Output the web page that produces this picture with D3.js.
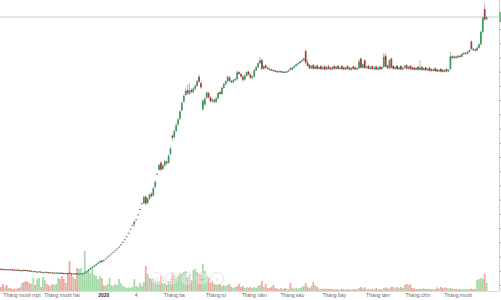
<!DOCTYPE html>
<html>
<head>
<meta charset="utf-8">
<script src="https://cdn.jsdelivr.net/npm/d3@7"></script>
<style>
    html, body { margin: 0; padding: 0; background: #ffffff; }
    svg { display: block; font-family: 'Liberation Sans', Arial, sans-serif; }
</style>
</head>
<body>
<div id="chart"></div>
<script>
// Daily candles, Oct 17 2019 .. Oct 22 2020 (one line per month)
var openPrice = [
    10.7,10.6,10.5,10.6,10.4,10.6,10.5,10.4,10.3,10.4,10.3,
    10.1,10.3,10.3,10.2,10.1,9.8,9.8,9.9,9.6,9.7,9.7,9.4,9.5,9.6,9.5,9.4,9.5,9.2,9.3,9.2,9.3,
    9.3,9.2,9.1,9.2,9.3,9.1,9.0,9.1,9.1,8.9,9.0,9.0,9.0,9.4,9.9,10.5,11.0,11.4,11.9,12.4,12.9,13.6,
    13.6,14.2,14.8,15.3,15.9,16.5,17.1,17.7,18.4,19.2,20.0,21.0,22.0,23.2,24.6,26.0,26.3,
    28.0,29.7,31.6,33.6,33.8,36.0,33.8,35.4,37.0,36.5,39.5,44.0,45.5,48.0,45.8,47.0,48.3,48.0,51.0,57.5,
    57.0,59.2,61.5,63.5,66.5,69.5,71.8,73.5,72.2,73.6,72.8,74.0,75.0,78.2,76.0,66.8,68.5,70.8,72.5,71.0,69.6,70.0,
    69.4,70.6,72.8,72.2,74.3,75.6,76.6,78.0,76.8,76.3,77.0,77.4,79.8,79.2,78.3,77.2,78.6,80.0,79.0,77.8,
    78.3,80.5,81.6,83.0,84.0,81.0,82.2,81.4,81.0,80.8,80.6,80.4,80.2,80.0,80.2,79.9,80.0,79.8,80.1,81.2,
    80.7,81.4,82.0,82.6,83.0,83.6,84.0,87.2,83.2,82.4,81.2,82.4,81.0,82.2,81.0,82.0,80.9,81.9,80.8,82.0,81.4,80.8,
    82.0,81.0,82.1,81.0,82.0,81.5,80.8,82.0,81.4,80.7,81.9,81.5,80.8,81.2,84.6,81.4,84.0,81.3,82.1,81.0,82.0,80.9,81.9,
    80.8,81.8,80.9,81.6,85.6,82.2,81.2,84.6,82.0,81.0,82.1,80.9,82.0,80.8,81.4,82.3,81.0,82.1,81.5,81.4,80.7,
    81.7,80.7,81.7,80.6,81.5,80.5,81.4,80.9,80.3,81.2,80.8,80.1,81.0,80.6,80.0,80.9,80.1,81.0,85.4,84.8,85.3,
    85.0,85.6,85.3,86.2,86.6,86.4,87.0,90.6,88.0,87.8,87.5,88.4,89.6,94.0,102.0,98.4
];
var closePrice = [
    10.6,10.5,10.6,10.4,10.5,10.5,10.4,10.3,10.4,10.3,10.2,
    10.2,10.1,10.2,10.0,9.9,10.0,9.9,9.8,9.7,9.8,9.6,9.5,9.6,9.5,9.4,9.5,9.4,9.3,9.4,9.3,9.2,
    9.2,9.1,9.2,9.1,9.0,9.0,9.1,9.0,8.9,9.0,9.1,9.2,9.4,9.9,10.5,11.0,11.4,11.9,12.4,12.9,13.4,13.1,
    13.6,14.2,14.8,15.3,15.9,16.5,17.1,17.7,18.4,19.2,20.0,21.0,22.0,23.2,24.6,26.0,27.3,
    28.0,29.7,31.6,33.6,36.0,33.6,35.4,36.8,36.2,39.0,41.2,44.0,47.2,45.6,47.0,48.5,47.8,50.5,53.0,56.8,
    59.0,61.2,63.2,66.0,69.0,71.5,73.3,72.4,73.4,72.9,74.0,75.0,76.6,76.5,74.5,69.8,70.5,72.6,71.0,69.6,70.2,69.4,
    70.6,72.5,72.2,74.3,75.6,76.6,78.2,76.8,76.3,77.0,77.4,79.8,79.2,78.3,77.2,78.6,79.9,79.0,77.8,78.3,
    80.5,81.6,83.0,84.0,81.0,81.9,81.4,81.0,80.8,80.6,80.4,80.2,80.0,80.2,79.9,80.0,79.8,80.1,80.5,80.7,
    81.4,82.0,82.6,83.0,83.6,84.0,84.6,83.2,82.0,81.2,82.0,81.0,81.8,81.0,81.6,80.9,81.5,80.8,81.6,81.0,80.8,81.6,
    81.0,81.7,81.0,81.4,80.9,80.8,81.5,81.0,80.7,81.3,81.0,80.8,81.2,83.6,81.4,82.6,81.3,81.8,81.0,81.5,80.9,81.4,80.8,
    81.4,80.9,81.6,85.2,81.8,81.2,84.0,81.4,81.0,81.6,80.9,81.5,80.8,81.4,82.0,81.0,81.7,80.9,80.8,80.7,81.3,
    80.7,81.4,80.6,81.2,80.5,81.0,80.3,80.3,80.8,80.2,80.1,80.6,80.0,80.0,80.6,80.1,80.6,85.4,84.8,85.3,85.0,
    85.6,85.3,86.2,86.6,86.4,87.0,87.6,88.0,87.8,87.5,88.4,89.6,94.0,99.0,98.4,99.2
];
var highPrice = [
    10.8,10.7,10.7,10.7,10.6,10.7,10.6,10.5,10.5,10.5,10.4,
    10.3,10.4,10.4,10.3,10.2,10.1,10.0,10.0,9.8,9.9,9.8,9.6,9.7,9.7,9.6,9.6,9.6,9.4,9.5,9.4,9.4,
    9.4,9.3,9.3,9.3,9.4,9.2,9.2,9.2,9.2,9.1,9.2,9.3,9.5,10.0,10.6,11.1,11.5,12.0,12.5,13.0,13.6,13.8,
    13.6,14.2,14.8,15.3,15.9,16.5,17.1,17.7,18.4,19.2,20.0,21.0,22.0,23.2,24.6,26.0,27.6,
    28.0,29.7,31.6,33.6,36.4,36.6,35.8,37.2,37.6,39.4,41.8,44.0,47.6,48.6,47.4,48.9,48.8,50.9,53.6,58.0,
    59.6,61.8,63.8,66.6,69.6,72.0,74.0,75.5,76.0,74.2,74.4,75.6,77.2,79.0,76.6,70.2,71.0,73.2,73.0,71.4,70.8,70.6,
    71.0,72.9,73.2,74.7,76.0,77.0,78.8,78.4,77.2,77.4,77.8,80.5,80.2,79.6,78.6,79.0,80.3,80.4,79.4,78.7,
    80.9,82.0,83.4,85.0,84.6,82.3,82.6,81.8,81.2,81.0,80.8,80.6,80.4,80.5,80.4,80.3,80.2,80.4,80.8,81.6,
    81.7,82.3,82.9,83.3,83.9,84.3,85.0,88.0,84.2,82.7,82.3,82.7,82.1,82.5,81.9,82.3,81.8,82.2,81.9,82.3,81.7,81.9,
    82.3,82.0,82.4,81.7,82.3,81.8,81.8,82.3,81.7,81.6,82.2,81.8,81.5,84.4,85.0,82.9,84.4,82.1,82.4,81.8,82.3,81.7,82.2,
    81.7,82.1,81.9,86.6,86.4,82.5,84.4,85.0,82.3,81.9,82.4,81.8,82.3,81.7,82.3,82.6,82.0,82.4,81.8,81.7,81.6,
    82.0,84.0,82.0,81.5,81.8,81.3,81.7,81.2,81.1,81.5,81.1,80.9,81.3,80.9,80.9,81.2,80.9,86.8,85.8,85.7,85.7,
    85.9,85.9,86.5,86.9,86.9,87.3,87.9,91.0,88.4,88.1,88.7,90.0,94.4,99.4,104.0,99.5
];
var lowPrice = [
    10.5,10.4,10.4,10.3,10.3,10.4,10.3,10.2,10.2,10.2,10.1,
    10.0,10.0,10.1,9.9,9.8,9.7,9.7,9.7,9.5,9.6,9.5,9.3,9.4,9.4,9.3,9.3,9.3,9.1,9.2,9.1,9.1,
    9.1,9.0,9.0,9.0,8.9,8.9,8.9,8.9,8.8,8.8,8.9,8.9,8.9,9.3,9.8,10.4,10.9,11.3,11.8,12.3,12.8,13.0,
    13.6,14.2,14.8,15.3,15.9,16.5,17.1,17.7,18.4,19.2,20.0,21.0,22.0,23.2,24.6,26.0,25.4,
    28.0,29.7,31.6,33.6,33.4,33.0,33.4,35.0,35.8,36.2,39.0,44.0,45.2,45.0,45.4,46.6,47.4,47.6,50.6,55.6,
    56.5,58.8,61.0,63.0,66.0,69.0,71.4,71.8,71.8,72.4,72.4,73.6,74.6,76.0,74.0,66.2,68.0,70.4,70.6,69.0,69.2,68.8,
    69.0,70.2,71.8,71.8,73.9,75.2,76.2,76.4,75.9,75.9,76.6,77.0,78.8,77.9,76.5,76.8,78.2,78.6,77.4,77.4,
    78.0,80.2,81.2,82.7,80.6,80.7,81.0,80.7,80.5,80.3,80.1,79.9,79.7,79.8,79.6,79.6,79.5,79.6,79.9,80.4,
    80.4,81.1,81.7,82.3,82.7,83.3,83.7,82.6,81.7,80.9,80.9,80.7,80.7,80.7,80.7,80.6,80.6,80.5,80.5,80.7,80.5,80.5,
    80.7,80.7,80.7,80.7,80.6,80.5,80.5,80.7,80.4,80.4,80.7,80.5,80.5,80.9,81.1,81.1,81.0,81.0,80.7,80.7,80.6,80.6,80.5,
    80.5,80.6,80.6,81.3,81.5,80.9,80.9,81.1,80.7,80.7,80.6,80.6,80.5,80.5,81.1,80.7,80.7,80.6,80.5,80.4,80.4,
    80.4,80.4,80.3,80.3,80.2,80.2,80.0,80.0,80.0,79.9,79.8,79.8,79.7,79.7,79.7,79.8,79.8,80.7,84.4,84.5,84.6,
    84.7,85.0,85.0,85.9,86.1,86.1,86.7,87.6,87.5,87.2,87.2,88.1,89.3,93.6,97.8,98.1
];
var volume = [
    20,35,22,30,15,14,10,12,11,14,18,
    40,45,50,45,40,35,65,30,60,65,20,70,55,35,30,25,35,30,35,65,60,
    75,60,40,90,150,90,70,60,115,110,115,90,200,100,100,90,115,80,75,60,75,65,
    30,25,35,65,30,25,35,30,60,40,25,20,15,18,15,20,60,
    25,20,40,25,45,125,85,65,60,65,50,45,50,75,35,40,30,50,50,90,
    80,65,75,90,85,95,100,70,85,55,105,110,95,85,85,135,100,75,65,40,50,35,
    30,35,35,25,30,25,30,35,20,15,20,25,35,20,25,15,20,15,20,15,
    20,15,25,30,50,20,35,15,15,20,30,15,12,10,15,10,15,12,10,40,
    15,12,15,12,15,20,25,40,20,15,25,45,30,20,12,10,12,10,12,10,12,10,
    8,10,8,6,10,8,8,10,8,6,8,10,8,15,20,12,18,8,10,8,12,8,15,
    8,10,8,15,18,12,14,20,20,12,20,15,20,15,30,35,30,35,15,12,10,
    10,12,10,14,10,12,10,8,10,8,18,12,20,15,18,15,12,15,12,10,10,
    8,10,8,8,10,8,10,12,8,10,55,60,65,60,85,40
];
var monthLabels = [ 'Tháng mười một', 'Tháng mười hai', '2020', '4', 'Tháng ba', 'Tháng tư',
    'Tháng năm', 'Tháng sáu', 'Tháng bảy', 'Tháng tám', 'Tháng chín', 'Tháng mười' ];
var marketHolidays = [ '2020-01-01', '2020-01-23', '2020-01-24', '2020-01-27', '2020-01-28',
    '2020-01-29', '2020-04-02', '2020-04-30', '2020-05-01', '2020-09-02' ];
var priceTicks = [ 5, 10, 15, 20, 25, 30, 35, 40, 45, 50, 55, 60, 65, 70, 75, 80, 85, 90, 95 ];

var width = 501,
    height = 300,
    axisX = 499,
    volBase = 291;

var fmt = d3.timeFormat( '%Y-%m-%d' );
var days = d3.timeDay.range( new Date( 2019, 9, 17 ), new Date( 2020, 9, 23 ) )
    .filter( d => d.getDay() !== 0 && d.getDay() !== 6 && marketHolidays.indexOf( fmt( d ) ) < 0 );
var keys = days.map( fmt );

var candles = keys.map( ( k, i ) => ( {
    key: k, o: openPrice[i], c: closePrice[i], h: highPrice[i], l: lowPrice[i], v: volume[i]
} ) );

var x = d3.scalePoint().domain( keys ).range( [1, 486.6] );
var y = d3.scaleLinear().domain( [0, 100] ).range( [299.2, 14.8] );
var yVol = d3.scaleLinear().domain( [0, 200] ).range( [volBase, volBase - 40] );

var svg = d3.select( '#chart' )
    .append( 'svg' )
    .attr( 'width', width )
    .attr( 'height', height )
    .attr( 'viewBox', [0, 0, width, height] );

svg.append( 'rect' ).attr( 'width', width ).attr( 'height', height ).attr( 'fill', '#ffffff' );

// Volume bars.
svg.append( 'g' )
    .selectAll( 'rect' )
    .data( candles )
    .join( 'rect' )
        .attr( 'x', d => x( d.key ) - 0.85 )
        .attr( 'y', d => yVol( d.v ) )
        .attr( 'width', 1.7 )
        .attr( 'height', d => volBase - yVol( d.v ) )
        .attr( 'fill', d => d.c >= d.o ? 'rgba(88,185,96,0.55)' : 'rgba(240,96,96,0.6)' );

// Bottom line and right price axis (its labels fall outside the frame).
svg.append( 'line' )
    .attr( 'x1', 0 ).attr( 'x2', axisX )
    .attr( 'y1', volBase + 0.5 ).attr( 'y2', volBase + 0.5 )
    .attr( 'stroke', '#dcdcdc' );

svg.append( 'line' )
    .attr( 'x1', axisX + 0.5 ).attr( 'x2', axisX + 0.5 )
    .attr( 'y1', 0 ).attr( 'y2', volBase )
    .attr( 'stroke', '#c9ced3' );

var yAxis = svg.append( 'g' )
    .attr( 'transform', 'translate(' + ( axisX + 0.5 ) + ',0)' )
    .call( d3.axisRight( y ).tickValues( priceTicks ).tickSize( 3 ).tickSizeOuter( 0 ) );
yAxis.select( '.domain' ).remove();
yAxis.selectAll( 'line' ).attr( 'stroke', '#9aa0a6' );
yAxis.selectAll( 'text' ).remove();

// Last price line.
var lastClose = closePrice[closePrice.length - 1];
svg.append( 'line' )
    .attr( 'x1', 0 ).attr( 'x2', axisX )
    .attr( 'y1', y( lastClose ) ).attr( 'y2', y( lastClose ) )
    .attr( 'stroke', '#b4d8c1' )
    .attr( 'stroke-width', 1 );
svg.append( 'rect' )
    .attr( 'x', axisX + 0.5 ).attr( 'y', y( lastClose ) - 5 )
    .attr( 'width', 40 ).attr( 'height', 10 )
    .attr( 'fill', '#57b47a' );

// Candles.
var candleG = svg.append( 'g' );
candleG.selectAll( 'line' )
    .data( candles )
    .join( 'line' )
        .attr( 'x1', d => x( d.key ) ).attr( 'x2', d => x( d.key ) )
        .attr( 'y1', d => y( d.h ) ).attr( 'y2', d => y( d.l ) )
        .attr( 'stroke', '#a0a0a0' )
        .attr( 'stroke-width', 0.8 );

candleG.selectAll( 'rect' )
    .data( candles )
    .join( 'rect' )
        .attr( 'x', d => x( d.key ) - 0.85 )
        .attr( 'y', d => y( Math.max( d.o, d.c ) ) - ( d.o === d.c ? 0.5 : 0 ) )
        .attr( 'width', 1.7 )
        .attr( 'height', d => Math.max( 1.2, Math.abs( y( d.o ) - y( d.c ) ) ) )
        .attr( 'fill', d => d.o === d.c ? '#7a7a7a' : ( d.c > d.o ? '#3a9a5c' : '#a93a3a' ) );

// Month labels at the first trading day of each month.
var months = d3.timeMonth.range( new Date( 2019, 10, 1 ), new Date( 2020, 9, 2 ) );
var monthFirst = months.map( m => keys.find( k => k >= fmt( m ) ) );

svg.append( 'g' )
    .selectAll( 'text' )
    .data( monthLabels )
    .join( 'text' )
        .attr( 'x', ( d, i ) => x( monthFirst[i] ) )
        .attr( 'y', 297 )
        .attr( 'text-anchor', 'middle' )
        .attr( 'font-size', 5 )
        .attr( 'font-weight', d => d === '2020' ? 'bold' : 'normal' )
        .attr( 'fill', d => d === '2020' ? '#333' : '#666' )
        .text( d => d );

// Faint navigation buttons overlay.
var navSymbols = [ '‹', '−', '○', '+', '›' ];
var nav = svg.append( 'g' ).attr( 'opacity', 0.45 );
nav.selectAll( 'circle' )
    .data( navSymbols )
    .join( 'circle' )
        .attr( 'cx', ( d, i ) => 157 + i * 15 )
        .attr( 'cy', 279 )
        .attr( 'r', 6.5 )
        .attr( 'fill', 'rgba(255,255,255,0.7)' )
        .attr( 'stroke', '#bbbbbb' )
        .attr( 'stroke-width', 0.8 );
nav.selectAll( 'text' )
    .data( navSymbols )
    .join( 'text' )
        .attr( 'x', ( d, i ) => 157 + i * 15 )
        .attr( 'y', 282 )
        .attr( 'text-anchor', 'middle' )
        .attr( 'font-size', 8 )
        .attr( 'fill', '#999' )
        .text( d => d );
</script>
</body>
</html>
